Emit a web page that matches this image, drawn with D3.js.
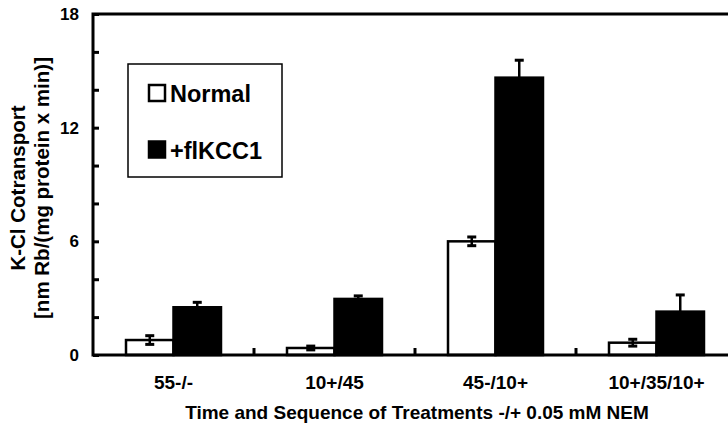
<!DOCTYPE html>
<html>
<head>
<meta charset="utf-8">
<script src="https://cdn.jsdelivr.net/npm/d3@7"></script>
<style>
  html, body { margin: 0; padding: 0; background: #fff; }
  svg { display: block; font-family: "Liberation Sans", Arial, sans-serif; font-weight: bold; }
</style>
</head>
<body>
<svg id="chart" width="728" height="427"></svg>
<script>
const categories = ["55-/-", "10+/45", "45-/10+", "10+/35/10+"];
const seriesNames = ["Normal", "+flKCC1"];
const normalValues = [0.79, 0.37, 6.0, 0.65];
const normalErrors = [0.23, 0.10, 0.23, 0.18];
const kccValues = [2.52, 2.96, 14.64, 2.29];
const kccErrors = [0.26, 0.16, 0.92, 0.88];
const yTickLabels = [0, 6, 12, 18];
const yMinorTicks = [0, 2, 4, 6, 8, 10, 12, 14, 16, 18];
const yAxisTitle = ["K-Cl Cotransport", "[nm Rb/(mg protein x min)]"];
const xAxisTitle = "Time and Sequence of Treatments -/+ 0.05 mM NEM";

const svg = d3.select("#chart");
const pL = 93, pR = 737, pT = 14, pB = 355;
const FONT = "Liberation Sans, Arial, sans-serif";

const x = d3.scaleBand().domain(categories).range([pL, pR]).padding(0);
const x1 = d3.scaleBand().domain(seriesNames)
  .range([x.bandwidth() * 0.205, x.bandwidth() * 0.795]).padding(0);
const y = d3.scaleLinear().domain([0, 18]).range([pB, pT]);

const series = [
  { name: seriesNames[0], values: normalValues, errors: normalErrors, fill: "#fff" },
  { name: seriesNames[1], values: kccValues, errors: kccErrors, fill: "#000" }
];

// bars
series.forEach(s => {
  const g = svg.append("g");
  categories.forEach((c, i) => {
    const bx = x(c) + x1(s.name);
    g.append("rect")
      .attr("x", bx).attr("y", y(s.values[i]))
      .attr("width", x1.bandwidth()).attr("height", y(0) - y(s.values[i]))
      .attr("fill", s.fill).attr("stroke", "#000").attr("stroke-width", 2.5);
  });
});

// error bars
series.forEach(s => {
  categories.forEach((c, i) => {
    const cx = x(c) + x1(s.name) + x1.bandwidth() / 2;
    const hi = y(s.values[i] + s.errors[i]);
    const lo = y(s.values[i] - s.errors[i]);
    svg.append("line").attr("x1", cx).attr("x2", cx).attr("y1", hi).attr("y2", lo)
      .attr("stroke", "#000").attr("stroke-width", 2.5);
    [hi, lo].forEach(yy => {
      svg.append("line").attr("x1", cx - 4.5).attr("x2", cx + 4.5).attr("y1", yy).attr("y2", yy)
        .attr("stroke", "#000").attr("stroke-width", 3);
    });
  });
});

// frame
svg.append("rect").attr("x", pL).attr("y", pT)
  .attr("width", pR - pL).attr("height", pB - pT)
  .attr("fill", "none").attr("stroke", "#000").attr("stroke-width", 3);

// y axis ticks (inward)
const yAxis = d3.axisRight(y).tickValues(yMinorTicks).tickSize(6).tickFormat("");
const ya = svg.append("g").attr("transform", `translate(${pL},0)`).call(yAxis);
ya.select(".domain").remove();
ya.selectAll("line").attr("stroke", "#000").attr("stroke-width", 3);

// y tick labels
const yl = d3.axisLeft(y).tickValues(yTickLabels).tickSize(0).tickPadding(14).tickFormat(d3.format("d"));
const yla = svg.append("g").attr("transform", `translate(${pL},0)`).call(yl);
yla.select(".domain").remove();
yla.selectAll("text").attr("font-size", 17).attr("font-weight", "bold")
  .attr("font-family", FONT).attr("fill", "#000");

// x axis: ticks between categories, pointing up
const bounds = categories.slice(1).map(c => x(c));
svg.append("g").selectAll("line").data(bounds).join("line")
  .attr("x1", d => d).attr("x2", d => d).attr("y1", pB).attr("y2", pB - 7)
  .attr("stroke", "#000").attr("stroke-width", 3);

const xl = d3.axisBottom(x).tickSize(0).tickPadding(21);
const xla = svg.append("g").attr("transform", `translate(0,${pB})`).call(xl);
xla.select(".domain").remove();
xla.selectAll("text").attr("font-size", 19).attr("font-weight", "bold")
  .attr("font-family", FONT).attr("fill", "#000");

// axis titles
svg.append("text").attr("x", 417).attr("y", 419)
  .attr("text-anchor", "middle").attr("font-size", 19).text(xAxisTitle);

const ty = svg.append("text").attr("transform", `translate(0,188) rotate(-90)`)
  .attr("text-anchor", "middle").attr("font-size", 20.5);
ty.append("tspan").attr("x", 0).attr("y", 25).text(yAxisTitle[0]);
ty.append("tspan").attr("x", 0).attr("y", 49).text(yAxisTitle[1]);

// legend
const lg = svg.append("g");
lg.append("rect").attr("x", 128).attr("y", 64).attr("width", 154).attr("height", 113)
  .attr("fill", "#fff").attr("stroke", "#000").attr("stroke-width", 1.5);
series.forEach((s, i) => {
  const yy = 85 + i * 56.5;
  lg.append("rect").attr("x", 149).attr("y", yy).attr("width", 16).attr("height", 16)
    .attr("fill", s.fill).attr("stroke", "#000").attr("stroke-width", 2.5);
  lg.append("text").attr("x", 170).attr("y", yy + 17).attr("font-size", 23.5).text(s.name);
});
</script>
</body>
</html>
